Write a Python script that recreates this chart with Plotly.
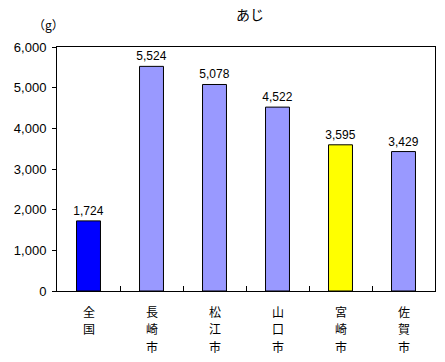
import plotly.graph_objects as go

categories = ["全国", "長崎市", "松江市", "山口市", "宮崎市", "佐賀市"]
values = [1724, 5524, 5078, 4522, 3595, 3429]
colors = ["#0000FF", "#9999FF", "#9999FF", "#9999FF", "#FFFF00", "#9999FF"]
y_ticks = [0, 1000, 2000, 3000, 4000, 5000, 6000]

fig = go.Figure(go.Bar(
    x=categories, y=values,
    marker=dict(color=colors, line=dict(color="black", width=1)),
    text=[f"{v:,}" for v in values], textposition="outside",
    textfont=dict(size=12, color="black", family="Liberation Sans, Noto Sans CJK JP"),
    constraintext="none",
    cliponaxis=False,
    hoverinfo="skip",
))

annotations = [
    dict(text="あじ", x=0.5, y=1, xref="paper", yref="paper", xanchor="center", yanchor="middle",
         xshift=4, yshift=33, showarrow=False, font=dict(size=14, family="Noto Sans CJK JP")),
    dict(text="（g）", x=0, y=1, xref="paper", yref="paper", xanchor="center", yanchor="middle",
         xshift=-9, yshift=23, showarrow=False, font=dict(size=12, family="Noto Sans CJK JP")),
]
# vertical category labels, one character per line
for cat in categories:
    for i, ch in enumerate(cat):
        annotations.append(dict(
            text=ch, x=cat, y=0, xref="x", yref="paper", xanchor="center", yanchor="middle",
            yshift=-(20 + 17.5 * i), showarrow=False, borderpad=0,
            font=dict(size=12, family="Noto Sans CJK JP", color="black"),
        ))

fig.update_layout(
    width=445, height=362,
    margin=dict(l=57, r=10, t=47, b=71),
    paper_bgcolor="white", plot_bgcolor="white",
    bargap=0.62, showlegend=False,
    font=dict(family="Liberation Sans, Noto Sans CJK JP", size=12, color="black"),
    annotations=annotations,
)
fig.update_xaxes(
    type="category", tickson="boundaries", ticks="inside", ticklen=5, tickcolor="black",
    showline=True, linecolor="black", linewidth=1, mirror=True,
    showticklabels=False, automargin=False,
)
fig.update_yaxes(
    range=[0, 6000], tickvals=y_ticks, tickformat=",", ticks="outside", ticklen=4, tickcolor="black",
    showline=True, linecolor="black", linewidth=1, mirror=True, showgrid=False, zeroline=False,
    tickfont=dict(size=13), automargin=False, ticklabelstandoff=3,
)

fig.write_html("out.html", config={"displayModeBar": False},
               post_script="document.body.style.margin='0';document.body.style.overflow='hidden';")
